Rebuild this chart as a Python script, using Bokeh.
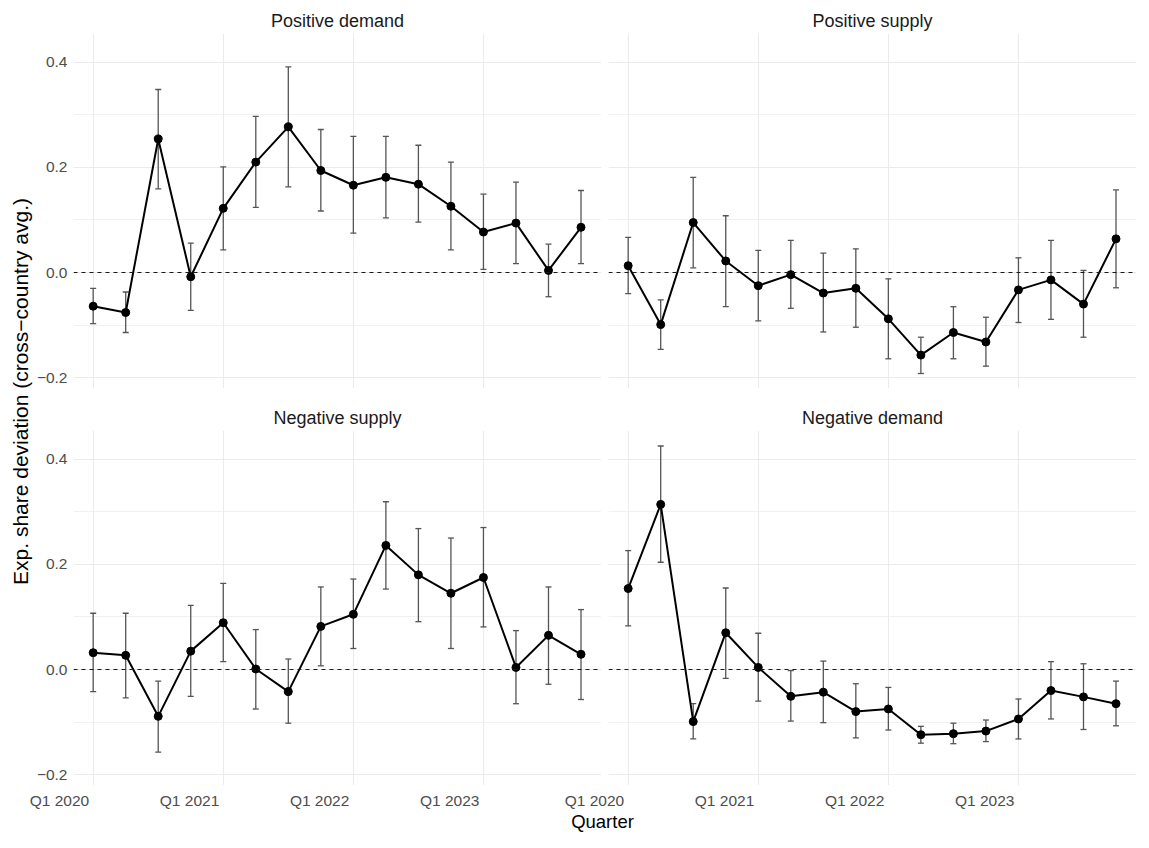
import math
from bokeh.plotting import figure
from bokeh.layouts import row, column
from bokeh.models import (ColumnDataSource, FixedTicker, CustomJSTickFormatter, Span,
                          Whisker, TeeHead, Range1d, Label, LabelSet)
from bokeh.core.properties import value
from bokeh.embed import file_html
from bokeh.resources import INLINE

# ---------------- data ----------------
quarters = ["Q1 2020", "Q2 2020", "Q3 2020", "Q4 2020",
            "Q1 2021", "Q2 2021", "Q3 2021", "Q4 2021",
            "Q1 2022", "Q2 2022", "Q3 2022", "Q4 2022",
            "Q1 2023", "Q2 2023", "Q3 2023", "Q4 2023"]
x_tick_labels = ["Q1 2020", "Q1 2021", "Q1 2022", "Q1 2023"]
y_ticks = [-0.2, 0.0, 0.2, 0.4]
y_tick_labels = ["\u22120.2", "0.0", "0.2", "0.4"]
y_minor_ticks = [-0.1, 0.1, 0.3]

pos_demand_est = [-0.064, -0.076, 0.254, -0.008, 0.122, 0.210, 0.277, 0.194,
                  0.166, 0.181, 0.168, 0.126, 0.077, 0.094, 0.004, 0.086]
pos_demand_lo = [-0.097, -0.114, 0.159, -0.072, 0.043, 0.124, 0.163, 0.117,
                 0.075, 0.104, 0.096, 0.043, 0.006, 0.017, -0.046, 0.017]
pos_demand_hi = [-0.030, -0.037, 0.348, 0.056, 0.201, 0.297, 0.391, 0.272,
                 0.259, 0.259, 0.242, 0.210, 0.149, 0.172, 0.054, 0.156]

pos_supply_est = [0.013, -0.099, 0.095, 0.022, -0.025, -0.004, -0.039, -0.030,
                  -0.088, -0.157, -0.114, -0.132, -0.033, -0.014, -0.060, 0.064]
pos_supply_lo = [-0.040, -0.146, 0.009, -0.065, -0.092, -0.068, -0.113, -0.104,
                 -0.164, -0.192, -0.164, -0.178, -0.095, -0.089, -0.123, -0.029]
pos_supply_hi = [0.067, -0.052, 0.181, 0.108, 0.042, 0.061, 0.037, 0.045,
                 -0.012, -0.123, -0.065, -0.085, 0.028, 0.061, 0.004, 0.157]

neg_supply_est = [0.032, 0.027, -0.089, 0.035, 0.089, 0.001, -0.042, 0.082,
                  0.105, 0.236, 0.180, 0.145, 0.175, 0.004, 0.065, 0.029]
neg_supply_lo = [-0.042, -0.054, -0.157, -0.051, 0.015, -0.075, -0.102, 0.007,
                 0.040, 0.153, 0.091, 0.040, 0.081, -0.065, -0.028, -0.057]
neg_supply_hi = [0.107, 0.107, -0.022, 0.122, 0.164, 0.076, 0.020, 0.157,
                 0.172, 0.319, 0.268, 0.250, 0.270, 0.074, 0.157, 0.114]

neg_demand_est = [0.154, 0.314, -0.099, 0.070, 0.004, -0.051, -0.043, -0.080,
                  -0.075, -0.124, -0.122, -0.117, -0.094, -0.040, -0.052, -0.065]
neg_demand_lo = [0.083, 0.204, -0.132, -0.017, -0.060, -0.098, -0.101, -0.130,
                 -0.115, -0.140, -0.141, -0.137, -0.132, -0.094, -0.114, -0.107]
neg_demand_hi = [0.226, 0.425, -0.065, 0.155, 0.069, -0.002, 0.016, -0.027,
                 -0.034, -0.108, -0.102, -0.096, -0.056, 0.015, 0.011, -0.022]

# ---------------- style / layout ----------------
FONT = "Liberation Sans"
FRAME_W, FRAME_H = 528, 355
X_LO, X_HI = -0.605, 15.63
Y_LO, Y_HI = -0.2205, 0.4545
GRID = "#EBEBEB"
TICK_COL = "#4D4D4D"
TICK_SIZE = "15.5px"

TITLE_W = 33
LEFT_B = 37
RIGHT_B = 7
TOP_B = 33
MID_B = 42
PANELS_H = TOP_B + FRAME_H + MID_B + FRAME_H
BOTTOM_H = 832 - PANELS_H          # tick labels + x title

x_idx = list(range(len(quarters)))
x_tick_pos = [quarters.index(q) for q in x_tick_labels]
px_per_unit = FRAME_W / (X_HI - X_LO)

y_formatter = CustomJSTickFormatter(args=dict(pos=y_ticks, labels=y_tick_labels), code="""
    for (let i = 0; i < pos.length; i++) { if (Math.abs(pos[i] - tick) < 1e-6) return labels[i]; }
    return "";
""")


def make_panel(title, est, lo, hi, show_y, b_left, b_top):
    p = figure(frame_width=FRAME_W, frame_height=FRAME_H,
               x_range=Range1d(X_LO, X_HI), y_range=Range1d(Y_LO, Y_HI),
               toolbar_location=None, output_backend="svg",
               min_border_left=b_left, min_border_right=0,
               min_border_top=b_top, min_border_bottom=0,
               title=title)
    p.outline_line_color = None
    p.background_fill_color = "white"
    p.border_fill_color = "white"

    p.title.align = "center"
    p.title.text_font = FONT
    p.title.text_font_size = "18px"
    p.title.text_font_style = "normal"
    p.title.text_color = "#1A1A1A"
    p.title.standoff = 5

    # grids
    p.xgrid.ticker = FixedTicker(ticks=x_tick_pos)
    p.xgrid.grid_line_color = GRID
    p.xgrid.grid_line_width = 1.1
    p.ygrid.ticker = FixedTicker(ticks=y_ticks, minor_ticks=y_minor_ticks)
    p.ygrid.grid_line_color = GRID
    p.ygrid.grid_line_width = 1.1
    p.ygrid.minor_grid_line_color = GRID
    p.ygrid.minor_grid_line_width = 0.7

    p.xaxis.visible = False

    ya = p.yaxis[0]
    ya.ticker = FixedTicker(ticks=y_ticks, minor_ticks=[])
    ya.formatter = y_formatter
    ya.axis_line_color = None
    ya.major_tick_line_color = None
    ya.minor_tick_line_color = None
    ya.major_tick_out = 0
    ya.major_tick_in = 0
    ya.minor_tick_out = 0
    ya.minor_tick_in = 0
    ya.major_label_text_font = FONT
    ya.major_label_text_font_size = TICK_SIZE
    ya.major_label_text_color = TICK_COL
    ya.major_label_standoff = 6
    ya.visible = show_y

    # zero reference line
    p.add_layout(Span(location=0, dimension="width", line_color="#1A1A1A",
                      line_width=1.1, line_dash="4 4"))

    src = ColumnDataSource(dict(x=x_idx, est=est, lo=lo, hi=hi))
    p.add_layout(Whisker(source=src, base="x", lower="lo", upper="hi",
                         line_color="#555555", line_width=1.3,
                         lower_head=TeeHead(size=6, line_color="#555555", line_width=1.3),
                         upper_head=TeeHead(size=6, line_color="#555555", line_width=1.3)))
    p.line("x", "est", source=src, line_color="black", line_width=2)
    p.scatter("x", "est", source=src, size=8, color="black")
    return p


def blank_fig(w, h, xr=None):
    f = figure(width=w, height=h,
               x_range=xr if xr is not None else Range1d(0, w), y_range=Range1d(0, h),
               toolbar_location=None, output_backend="svg", min_border=0)
    f.axis.visible = False
    f.grid.visible = False
    f.outline_line_color = None
    return f


p_tl = make_panel("Positive demand", pos_demand_est, pos_demand_lo, pos_demand_hi,
                  True, LEFT_B, TOP_B)
p_tr = make_panel("Positive supply", pos_supply_est, pos_supply_lo, pos_supply_hi,
                  False, RIGHT_B, TOP_B)
p_bl = make_panel("Negative supply", neg_supply_est, neg_supply_lo, neg_supply_hi,
                  True, LEFT_B, MID_B)
p_br = make_panel("Negative demand", neg_demand_est, neg_demand_lo, neg_demand_hi,
                  False, RIGHT_B, MID_B)

# y title column
yt = blank_fig(TITLE_W, PANELS_H)
yt.add_layout(Label(x=20, y=PANELS_H - 391, text="Exp. share deviation (cross\u2212country avg.)",
                    angle=math.pi / 2, text_align="center", text_baseline="middle",
                    text_font=FONT, text_font_size="21px", text_color="black"))

# bottom strip over the full width: quarter tick labels of both panels
# (same x scales as the panels above) + x title
bw = TITLE_W + LEFT_B + FRAME_W + RIGHT_B + FRAME_W
left_start = X_LO - (TITLE_W + LEFT_B) / px_per_unit
bottom = blank_fig(bw, BOTTOM_H, Range1d(left_start, left_start + bw / px_per_unit))
right_start = X_LO - (TITLE_W + LEFT_B + FRAME_W + RIGHT_B) / px_per_unit
bottom.extra_x_ranges = {"right": Range1d(right_start, right_start + bw / px_per_unit)}

lab_y = BOTTOM_H - 14.5
for rng in ("default", "right"):
    lab_src = ColumnDataSource(dict(x=x_tick_pos, y=[lab_y] * len(x_tick_pos),
                                    text=x_tick_labels))
    bottom.add_layout(LabelSet(source=lab_src, x="x", y="y", text="text", x_offset=-1,
                               x_range_name=rng,
                               text_align="right", text_baseline="middle",
                               text_font=value(FONT), text_font_size=value(TICK_SIZE),
                               text_color=TICK_COL))

bottom.add_layout(Label(x=602 / px_per_unit + left_start, y=BOTTOM_H - 36,
                        text="Quarter", text_align="center", text_baseline="middle",
                        text_font=FONT, text_font_size="18.5px", text_color="black"))

layout = column(row(yt, column(row(p_tl, p_tr), row(p_bl, p_br))), bottom)

open("out.html", "w").write(file_html(layout, INLINE))
